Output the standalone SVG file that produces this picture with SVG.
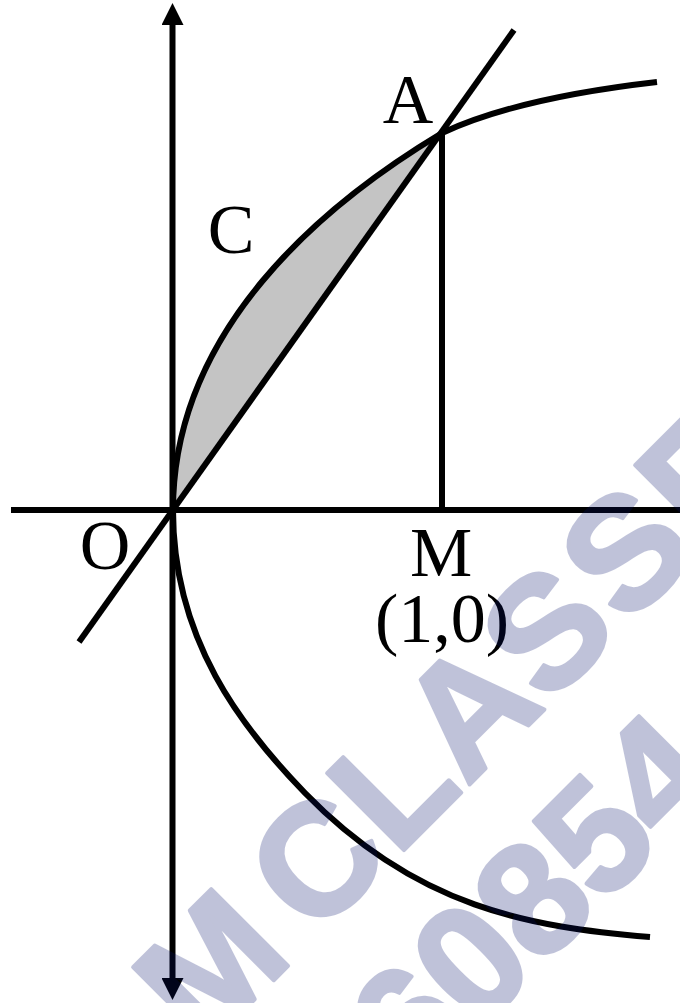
<svg xmlns="http://www.w3.org/2000/svg" width="680" height="1003" viewBox="0 0 680 1003">
<style>
.ln{stroke:#000;stroke-width:6;fill:none}
.lbl{font-family:"Liberation Serif","Times New Roman",serif;font-size:70px;fill:#000;text-anchor:middle}
.wm{font-family:"Liberation Sans",Arial,sans-serif;font-weight:bold;font-size:158px;fill:#04106a;stroke:#04106a;stroke-width:4;stroke-linejoin:round}
</style>
<defs>
<marker id="arr" viewBox="0 0 22 22" markerWidth="22" markerHeight="22" refX="0" refY="11" orient="auto-start-reverse" markerUnits="userSpaceOnUse">
<path d="M0,0 L22,11 L0,22 Z" fill="#000"/>
</marker>
</defs>
<rect width="680" height="1003" fill="#fff"/>
<g id="region">
<path d="M173,510 C173,330 322,205 442,133 L173,510 Z" fill="#c4c4c4"/>
</g>
<g id="axes">
<line class="ln" x1="11" y1="510" x2="680" y2="510"/>
<line class="ln" x1="172.5" y1="25" x2="172.5" y2="978" marker-start="url(#arr)" marker-end="url(#arr)"/>
</g>
<g id="connectors">
<line class="ln" x1="79" y1="642" x2="514" y2="30"/>
<line class="ln" x1="442" y1="133" x2="442" y2="510"/>
<path class="ln" d="M173,510 C173,330 322,205 442,133 C502,105 587,90 657,82"/>
<path class="ln" d="M173,510 C173,640 242,728 305,793 C417,908 530,927 650,937"/>
</g>
<g id="labels">
<text class="lbl" x="408" y="123">A</text>
<text class="lbl" x="231" y="253">C</text>
<text class="lbl" x="105" y="569">O</text>
<text class="lbl" x="441" y="576">M</text>
<text class="lbl" x="442" y="642">(1,0)</text>
</g>
<g id="watermark" opacity="0.25" transform="translate(307,858) rotate(-45)">
<text class="wm" x="-210.8 -100 -52 63.7 163 277.3 389.3 499.3 609.3" y="63">M CLASSES</text>
<text class="wm" x="-89" y="243">60854</text>
</g>
</svg>
